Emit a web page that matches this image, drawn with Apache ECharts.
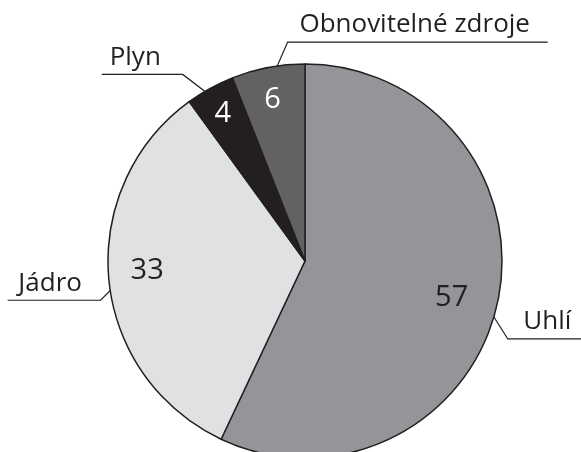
<!DOCTYPE html>
<html>
<head>
<meta charset="utf-8">
<script src="https://cdn.jsdelivr.net/npm/echarts@6/dist/echarts.min.js"></script>
<style>
  html, body { margin: 0; padding: 0; background: #ffffff; }
  #chart { width: 581px; height: 452px; }
</style>
</head>
<body>
<div id="chart"></div>
<script>
// Energy mix shares (%)
const categories = ['Uhlí', 'Jádro', 'Plyn', 'Obnovitelné zdroje'];
const shares = [57, 33, 4, 6];

// Styling
const sliceColors = ['#949598', '#e0e1e3', '#231f20', '#626264'];
const valueColors = ['#231f20', '#231f20', '#ffffff', '#ffffff'];
// nudges for the value labels inside the slices
const valueNudges = [[-12, 1], [4, -6], [-4, -5], [-2, -2]];
// Leader lines: a diagonal kink out of the slice, then a horizontal rule under the name
const leaders = [
  { dx: 24, dy: 38, run: 75, shift: 2 },
  { dx: -22, dy: 22, run: -93, shift: -4 },
  { dx: -34, dy: -26, run: -81, shift: -7 },
  { dx: 17, dy: -39, run: 260, shift: -3 }
];
const CENTER = [305, 261];
const R = 197;
const FONT = '"Open Sans", "Noto Sans", sans-serif';
const INK = '#231f20';

const chart = echarts.init(document.getElementById('chart'), null, { renderer: 'canvas' });
const items = categories.map((name, i) => ({ name: name, value: shares[i] }));

chart.setOption({
  animation: false,
  backgroundColor: '#ffffff',
  series: [
    {
      // the visible pie
      type: 'pie',
      center: CENTER,
      radius: [0, R],
      startAngle: 90,
      clockwise: true,
      silent: true,
      data: items.map((d, i) => ({ name: d.name, value: d.value, itemStyle: { color: sliceColors[i] } })),
      itemStyle: { borderColor: INK, borderWidth: 1.5 },
      label: { show: false },
      labelLine: { show: false }
    },
    {
      // value labels, placed on an invisible ring near the rim
      type: 'pie',
      center: CENTER,
      radius: [R * 0.64, R * 0.98],
      startAngle: 90,
      clockwise: true,
      silent: true,
      data: items.map((d, i) => ({
        name: d.name,
        value: d.value,
        label: { color: valueColors[i], offset: valueNudges[i] }
      })),
      itemStyle: { color: 'rgba(0,0,0,0)', borderWidth: 0 },
      label: {
        show: true,
        position: 'inside',
        formatter: '{c}',
        fontFamily: FONT,
        fontSize: 29
      },
      labelLine: { show: false }
    },
    {
      // category names with leader lines
      type: 'pie',
      center: CENTER,
      radius: [0, R * 0.93],
      startAngle: 90,
      clockwise: true,
      silent: true,
      avoidLabelOverlap: false,
      data: items,
      itemStyle: { color: 'rgba(0,0,0,0)', borderWidth: 0 },
      label: {
        show: true,
        position: 'outside',
        formatter: '{b}',
        fontFamily: FONT,
        fontSize: 26,
        color: INK
      },
      labelLine: {
        show: true,
        length: 20,
        length2: 20,
        lineStyle: { color: INK, width: 1.2 }
      },
      labelLayout: function (p) {
        const L = leaders[p.dataIndex];
        const s = p.labelLinePoints[0];
        const corner = [s[0] + L.dx, s[1] + L.dy];
        const end = [corner[0] + L.run, corner[1]];
        return {
          x: corner[0] + L.run / 2 + L.shift,
          y: corner[1] - 4,
          align: 'center',
          verticalAlign: 'bottom',
          labelLinePoints: [s, corner, end]
        };
      }
    }
  ]
});
</script>
</body>
</html>
